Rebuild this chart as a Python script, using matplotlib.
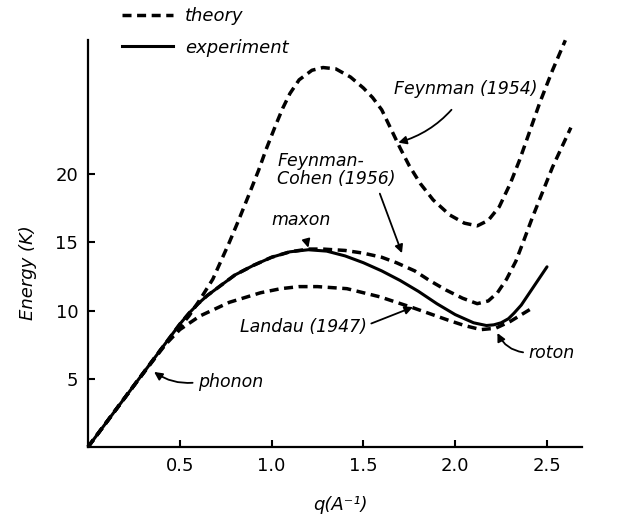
import matplotlib
matplotlib.use('Agg')
import matplotlib.pyplot as plt
from matplotlib.lines import Line2D

# experiment (solid)
q_exp = [0, 0.25, 0.50, 0.55, 0.60, 0.65, 0.70, 0.80, 0.90, 1.00, 1.10, 1.20, 1.30,
         1.40, 1.50, 1.60, 1.70, 1.80, 1.90, 2.00, 2.10, 2.17, 2.21, 2.25, 2.29,
         2.32, 2.36, 2.40, 2.45, 2.50]
E_exp = [0, 4.5, 9.0, 9.8, 10.5, 11.1, 11.6, 12.6, 13.3, 13.9, 14.3, 14.45, 14.35,
         14.0, 13.5, 12.9, 12.2, 11.4, 10.5, 9.7, 9.1, 8.9, 8.95, 9.1, 9.4,
         9.8, 10.4, 11.2, 12.2, 13.2]

# Landau (1947)
q_landau = [0, 0.25, 0.40, 0.50, 0.61, 0.77, 0.94, 1.05, 1.15, 1.25, 1.41, 1.59,
            1.77, 1.96, 2.05, 2.14, 2.22, 2.30, 2.41]
E_landau = [0, 4.5, 7.2, 8.6, 9.6, 10.6, 11.3, 11.6, 11.75, 11.75, 11.6, 11.0,
            10.2, 9.3, 8.9, 8.6, 8.7, 9.2, 10.1]

# Feynman-Cohen (1956)
q_fc = [0, 0.25, 0.50, 0.55, 0.60, 0.65, 0.70, 0.80, 0.90, 1.00, 1.10, 1.20, 1.28,
        1.40, 1.50, 1.60, 1.68, 1.78, 1.86, 1.95, 2.04, 2.12, 2.18, 2.23, 2.28,
        2.33, 2.37, 2.42, 2.53, 2.63]
E_fc = [0, 4.5, 9.0, 9.8, 10.5, 11.1, 11.6, 12.6, 13.3, 13.9, 14.3, 14.5, 14.5,
        14.4, 14.2, 13.9, 13.5, 12.9, 12.2, 11.5, 10.9, 10.5, 10.7, 11.3, 12.3,
        13.6, 15.0, 16.8, 20.5, 23.4]

# Feynman (1954)
q_fey = [0, 0.25, 0.45, 0.50, 0.55, 0.61, 0.68, 0.72, 0.77, 0.82, 0.88, 0.93, 0.97,
         1.02, 1.06, 1.10, 1.15, 1.22, 1.28, 1.35, 1.43, 1.50, 1.55, 1.60, 1.65,
         1.70, 1.75, 1.81, 1.88, 1.97, 2.05, 2.12, 2.18, 2.24, 2.30, 2.35, 2.40,
         2.46, 2.53, 2.60]
E_fey = [0, 4.5, 8.0, 8.8, 9.6, 10.8, 12.3, 13.5, 15.0, 16.6, 18.6, 20.3, 21.8,
         23.5, 24.8, 25.9, 26.9, 27.6, 27.8, 27.7, 27.1, 26.3, 25.6, 24.7, 23.3,
         21.9, 20.6, 19.3, 18.1, 17.0, 16.4, 16.2, 16.6, 17.6, 19.3, 21.0, 22.9,
         25.2, 27.6, 29.8]

xticks = [0.5, 1.0, 1.5, 2.0, 2.5]
yticks = [5, 10, 15, 20]

dash = (2.6, 1.6)
lw = 2.5

fig = plt.figure(figsize=(6.35, 5.22), dpi=100)
ax = fig.add_axes([88 / 635, 75 / 522, 547 / 635, 447 / 522])
ax.set_xlim(0, 547 / 183.6)
ax.set_ylim(0, 447 / 13.65)

ax.plot(q_fey, E_fey, color='black', lw=lw, dashes=dash, clip_on=False)
ax.plot(q_fc, E_fc, color='black', lw=lw, dashes=dash, clip_on=False)
ax.plot(q_landau, E_landau, color='black', lw=lw, dashes=dash, clip_on=False)
ax.plot(q_exp, E_exp, color='black', lw=2.2, solid_capstyle='round')

for s in ['top', 'right']:
    ax.spines[s].set_visible(False)
ax.spines['bottom'].set_bounds(0, 2.69)
ax.spines['left'].set_bounds(0, 29.8)
ax.spines['bottom'].set_linewidth(1.6)
ax.spines['left'].set_linewidth(1.6)

ax.set_xticks(xticks)
ax.set_xticklabels(['0.5', '1.0', '1.5', '2.0', '2.5'])
ax.set_yticks(yticks)
ax.tick_params(direction='in', length=5, width=1.5, labelsize=13, pad=7)

ital = dict(style='italic', fontsize=13)
ax.set_ylabel('Energy (K)', **ital)
ax.yaxis.set_label_coords(-0.093, 0.39)
ax.set_xlabel('q(A⁻¹)', **ital)
ax.xaxis.set_label_coords(0.461, -0.11)

arr = dict(arrowstyle='-|>', color='black', lw=1.3, mutation_scale=12)

ax.annotate('Feynman (1954)', xy=(1.69, 22.3), xytext=(2.06, 26.2),
            ha='center', va='center', fontsize=12.5, style='italic',
            arrowprops=dict(arr, connectionstyle='arc3,rad=-0.2', shrinkA=8, shrinkB=0))
ax.annotate('Feynman-\nCohen (1956)', xy=(1.71, 14.2), xytext=(1.03, 20.3),
            ha='left', va='center', fontsize=12.5, style='italic', linespacing=1.05,
            arrowprops=dict(arr, relpos=(0.85, 0.0), shrinkA=2, shrinkB=0))
ax.annotate('maxon', xy=(1.20, 14.6), xytext=(1.16, 16.6),
            ha='center', va='center', fontsize=12.5, style='italic',
            arrowprops=dict(arr, shrinkA=6, shrinkB=0))
ax.annotate('Landau (1947)', xy=(1.77, 10.25), xytext=(0.83, 8.8),
            ha='left', va='center', fontsize=12.5, style='italic',
            arrowprops=dict(arr, relpos=(1.0, 0.6), shrinkA=1, shrinkB=0))
ax.annotate('roton', xy=(2.23, 8.35), xytext=(2.40, 6.9),
            ha='left', va='center', fontsize=12.5, style='italic',
            arrowprops=dict(arr, relpos=(0.0, 0.5), connectionstyle='arc3,rad=-0.3',
                            shrinkA=2, shrinkB=0))
ax.annotate('phonon', xy=(0.36, 5.5), xytext=(0.60, 4.75),
            ha='left', va='center', fontsize=12.5, style='italic',
            arrowprops=dict(arr, relpos=(0.0, 0.5), connectionstyle='arc3,rad=-0.2',
                            shrinkA=2, shrinkB=0))

handles = [Line2D([], [], color='black', lw=lw, dashes=dash),
           Line2D([], [], color='black', lw=2.2)]
fig.legend(handles, ['theory', 'experiment'], loc='upper left',
           bbox_to_anchor=(122 / 635, 1 - 7 / 522), frameon=False,
           prop=dict(style='italic', size=13), handlelength=2.8,
           handletextpad=0.7, labelspacing=0.75, borderpad=0, borderaxespad=0)

fig.savefig('out.png', dpi=100)
